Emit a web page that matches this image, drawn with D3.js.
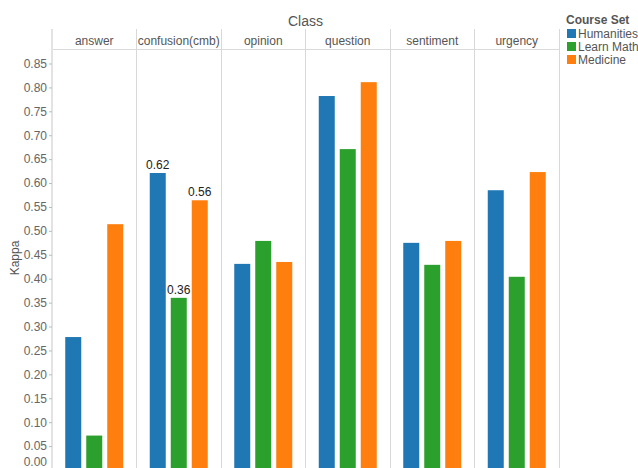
<!DOCTYPE html>
<html><head><meta charset="utf-8">
<script src="https://cdn.jsdelivr.net/npm/d3@7"></script>
<style>body{margin:0;background:#fff}svg{display:block;font-family:"Liberation Sans",Arial,sans-serif}</style>
</head><body><svg id="c" width="638" height="468"></svg>
<script>
const classes = ["answer","confusion(cmb)","opinion","question","sentiment","urgency"];
const courseSets = ["Humanities","Learn Math","Medicine"];
const humanities = [0.278, 0.621, 0.431, 0.782, 0.475, 0.585];
const learnMath  = [0.072, 0.360, 0.479, 0.671, 0.429, 0.404];
const medicine   = [0.514, 0.564, 0.435, 0.811, 0.479, 0.623];
const colors = ["#1f77b4","#2ca02c","#ff7f0e"];
const yTicks = d3.range(0, 18).map(i => +(i*0.05).toFixed(2));
const labelled = {"confusion(cmb)": [true, true, true]};

const series = [humanities, learnMath, medicine];
const svg = d3.select("#c");
const x0 = d3.scaleBand().domain(classes).range([52, 559]).padding(0);
const x1 = d3.scaleBand().domain(courseSets).range([0, x0.bandwidth()]).paddingInner(5/21).paddingOuter(0.631);
const y = d3.scaleLinear().domain([0, 0.85]).range([470, 63.5]);
const color = d3.scaleOrdinal().domain(courseSets).range(colors);

// header
svg.append("text").attr("x", 305.5).attr("y", 26).attr("text-anchor","middle")
  .attr("font-size", 14).attr("fill","#555").text("Class");
svg.append("line").attr("x1",52).attr("x2",559).attr("y1",49.5).attr("y2",49.5)
  .attr("stroke","#dadada");
svg.selectAll(".hdr").data(classes).join("text")
  .attr("x", d => x0(d) + x0.bandwidth()/2).attr("y", 44.5)
  .attr("text-anchor","middle").attr("font-size",12).attr("fill","#555").text(d => d);

// separators
const bounds = classes.map(d => x0(d)).concat([559]);
svg.selectAll(".sep").data(bounds).join("line")
  .attr("x1", d => d).attr("x2", d => d).attr("y1", 29).attr("y2", 468)
  .attr("stroke", (d,i) => i === 0 ? "#e3e3e3" : "#d8d8d8")
  .attr("stroke-width", (d,i) => i === 0 ? 2 : 1)
  .attr("shape-rendering","crispEdges");

// bars
const data = [];
classes.forEach((c, ci) => courseSets.forEach((s, si) => data.push({c, s, si, v: series[si][ci]})));
svg.selectAll(".bar").data(data).join("rect")
  .attr("x", d => x0(d.c) + x1(d.s)).attr("width", x1.bandwidth())
  .attr("y", d => y(d.v)).attr("height", d => y(0) - y(d.v))
  .attr("fill", d => color(d.s));
svg.selectAll(".lbl").data(data.filter(d => labelled[d.c] && labelled[d.c][d.si])).join("text")
  .attr("x", d => x0(d.c) + x1(d.s) + x1.bandwidth()/2).attr("y", d => y(d.v) - 4)
  .attr("text-anchor","middle").attr("font-size",12).attr("fill","#222")
  .text(d => d.v.toFixed(2));

// y axis
const ax = svg.append("g").attr("transform","translate(52,0)")
  .call(d3.axisLeft(y).tickValues(yTicks).tickFormat(d3.format(".2f")).tickSize(3).tickPadding(2));
ax.select(".domain").remove();
ax.selectAll(".tick line").attr("stroke","#bbb");
ax.selectAll(".tick text").attr("font-size",12).attr("fill","#666").attr("font-family","Liberation Sans, Arial, sans-serif");
ax.selectAll(".tick").filter(d => d === 0).select("text").attr("y", -8);

svg.append("text").attr("transform","translate(19,258) rotate(-90)").attr("text-anchor","middle")
  .attr("font-size",12).attr("fill","#555").text("Kappa");

// legend
svg.append("text").attr("x",566).attr("y",24).attr("font-size",12).attr("font-weight","bold")
  .attr("fill","#555").text("Course Set");
const lg = svg.selectAll(".lg").data(courseSets).join("g")
  .attr("transform", (d,i) => `translate(567,${29 + i*13})`);
lg.append("rect").attr("width",9).attr("height",9).attr("fill", d => color(d));
lg.append("text").attr("x",11).attr("y",9).attr("font-size",12).attr("fill","#555").text(d => d);
</script></body></html>
